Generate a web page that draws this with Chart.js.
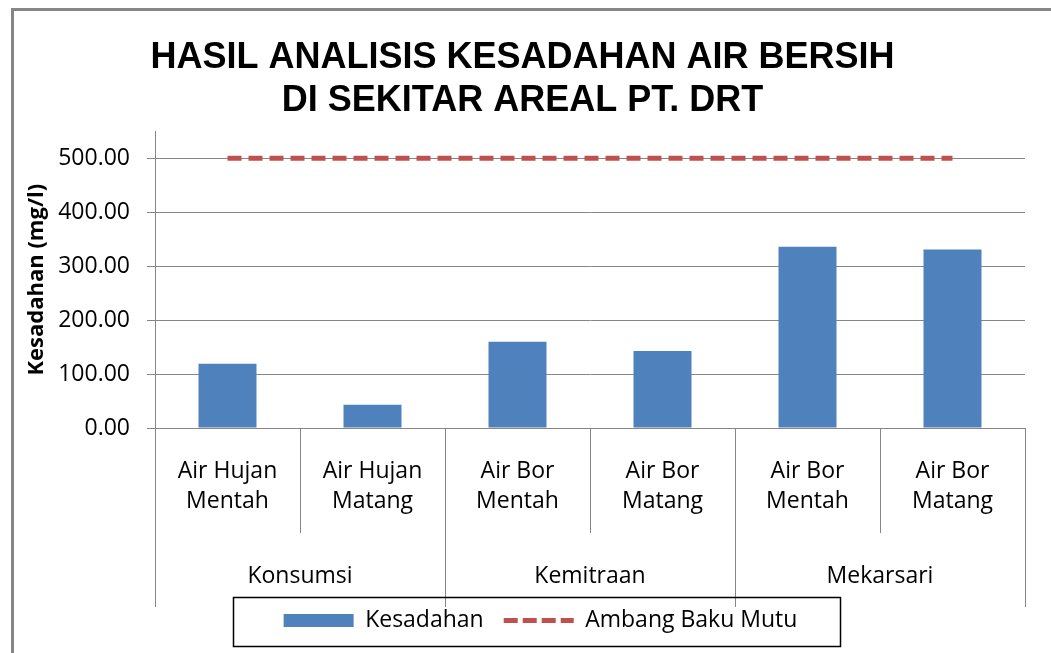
<!DOCTYPE html>
<html>
<head>
<meta charset="utf-8">
<script src="https://cdn.jsdelivr.net/npm/chart.js@4"></script>
<style>
  body { margin: 0; background: #fff; }
  #wrap { width: 1051px; height: 653px; }
</style>
</head>
<body>
<div id="wrap"><canvas id="myChart"></canvas></div>
<script>
// data
const catLine1 = ['Air Hujan', 'Air Hujan', 'Air Bor', 'Air Bor', 'Air Bor', 'Air Bor'];
const catLine2 = ['Mentah', 'Matang', 'Mentah', 'Matang', 'Mentah', 'Matang'];
const groups = ['Konsumsi', 'Kemitraan', 'Mekarsari'];
const kesadahan = [119, 43, 160, 143, 336, 331];
const ambangBakuMutu = [500, 500, 500, 500, 500, 500];
const yTicks = [0, 100, 200, 300, 400, 500];

const titleLines = ['HASIL ANALISIS KESADAHAN AIR BERSIH', 'DI SEKITAR AREAL PT. DRT'];

const grey = '#868686';
const font = "'Open Sans'";

const excelLook = {
  id: 'excelLook',
  beforeDraw(chart) {
    const ctx = chart.ctx;
    ctx.save();
    ctx.fillStyle = '#fff';
    ctx.fillRect(0, 0, chart.width, chart.height);
    // outer chart frame (cut off on right / bottom)
    ctx.strokeStyle = grey;
    ctx.lineWidth = 3;
    ctx.strokeRect(12.5, 9.5, chart.width + 20, chart.height + 20);
    ctx.restore();
  },
  afterLayout(chart) {
    // legend sits a bit right of centre in the original
    chart.legend.left += 18;
    chart.legend.right += 18;
  },
  afterDraw(chart) {
    const ctx = chart.ctx;
    const area = chart.chartArea;
    const xs = chart.scales.x;
    const step = (area.right - area.left) / catLine1.length;
    ctx.save();

    // multi level category separators
    ctx.strokeStyle = grey;
    ctx.lineWidth = 1;
    for (let i = 0; i <= catLine1.length; i++) {
      const px = Math.round(area.left + i * step) + 0.5;
      const len = (i % 2 === 0) ? 179 : 105;
      ctx.beginPath();
      ctx.moveTo(px, area.bottom);
      ctx.lineTo(px, area.bottom + len);
      ctx.stroke();
    }

    // category + group labels
    ctx.fillStyle = '#000';
    ctx.font = '23px ' + font;
    ctx.textAlign = 'center';
    ctx.textBaseline = 'middle';
    catLine1.forEach(function (t, i) {
      const cx = xs.getPixelForValue(i);
      ctx.fillText(t, cx, area.bottom + 43);
      ctx.fillText(catLine2[i], cx, area.bottom + 73);
    });
    groups.forEach(function (g, j) {
      const cx = (xs.getPixelForValue(2 * j) + xs.getPixelForValue(2 * j + 1)) / 2;
      ctx.fillText(g, cx, area.bottom + 148);
    });

    // legend frame
    const hb = chart.legend.legendHitBoxes;
    if (hb && hb.length) {
      const last = hb[hb.length - 1];
      const cy = hb[0].top + hb[0].height / 2;
      const left = hb[0].left - 51;
      const right = last.left + last.width + 42;
      ctx.strokeStyle = '#000';
      ctx.lineWidth = 1.5;
      ctx.strokeRect(Math.round(left) + 0.5, Math.round(cy - 24) + 0.5, Math.round(right - left), 49);
    }
    ctx.restore();
  }
};

const myChart = document.querySelector('#myChart').getContext('2d');

const chart = new Chart(myChart, {
  type: 'bar',
  data: {
    labels: catLine1.map(function (t, i) { return [t, catLine2[i]]; }),
    datasets: [
      {
        label: 'Kesadahan',
        data: kesadahan,
        backgroundColor: '#4F81BD',
        barPercentage: 0.4,
        categoryPercentage: 1.0
      },
      {
        type: 'line',
        label: 'Ambang Baku Mutu',
        data: ambangBakuMutu,
        borderColor: '#C0504D',
        borderWidth: 5,
        borderDash: [14, 7],
        pointRadius: 0,
        fill: false
      }
    ]
  },
  options: {
    responsive: true,
    maintainAspectRatio: false,
    animation: false,
    layout: { padding: { left: 20, right: 26, top: 0, bottom: 11 } },
    plugins: {
      title: {
        display: true,
        text: titleLines,
        color: '#000',
        font: { family: "'Liberation Sans'", size: 36, weight: 'bold', lineHeight: 1.2 },
        padding: { top: 36, bottom: 9 }
      },
      legend: {
        position: 'bottom',
        labels: {
          usePointStyle: true,
          pointStyleWidth: 70,
          boxHeight: 13,
          padding: 20,
          color: '#000',
          font: { family: font, size: 23 },
          generateLabels: function () {
            return [
              { text: 'Kesadahan', fillStyle: '#4F81BD', strokeStyle: '#4F81BD', lineWidth: 0,
                pointStyle: 'rect', datasetIndex: 0, fontColor: '#000' },
              { text: 'Ambang Baku Mutu', fillStyle: '#C0504D', strokeStyle: '#C0504D', lineWidth: 5,
                lineDash: [14, 5], pointStyle: 'line', datasetIndex: 1, fontColor: '#000' }
            ];
          }
        }
      },
      tooltip: { enabled: false }
    },
    scales: {
      x: {
        grid: { display: false },
        border: { display: false },
        ticks: { display: false },
        afterFit: function (scale) { scale.height = 161; }
      },
      y: {
        min: 0,
        max: 550,
        grid: { color: grey, tickLength: 8, drawTicks: true },
        border: { display: true, color: grey },
        ticks: {
          stepSize: 100,
          padding: 17,
          color: '#000',
          font: { family: font, size: 23 },
          callback: function (v) { return v.toFixed(2); }
        },
        afterBuildTicks: function (scale) {
          scale.ticks = scale.ticks.filter(function (t) { return yTicks.indexOf(t.value) >= 0; });
        },
        afterFit: function (scale) { scale.width = 135; },
        title: {
          display: true,
          text: 'Kesadahan (mg/l)',
          color: '#000',
          font: { family: font, size: 22, weight: 'bold' }
        }
      }
    }
  },
  plugins: [excelLook]
});
</script>
</body>
</html>
